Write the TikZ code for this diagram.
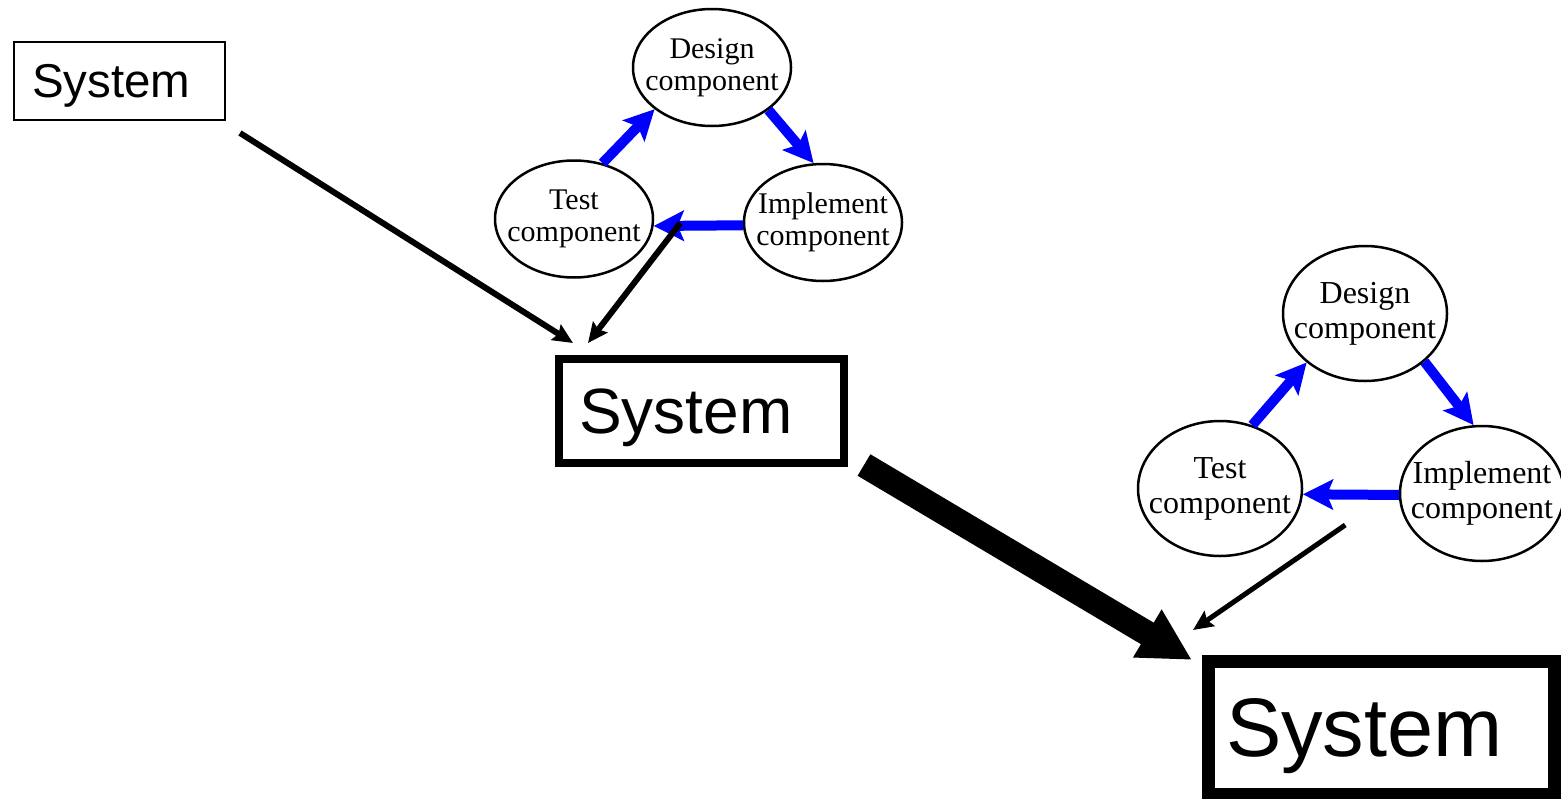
\documentclass[tikz,border=0pt]{standalone}
\usepackage{fontspec}
\setmainfont{Liberation Serif}
\newfontfamily\sysfont{Liberation Sans}
\usetikzlibrary{shapes.geometric,arrows.meta}

\begin{document}
\begin{tikzpicture}[x=1pt,y=-1pt,
            compa/.style={ellipse,draw,line width=2.5pt,inner sep=0pt,minimum width=158pt,minimum height=117pt,
                label={[align=center,font=\fontsize{30}{31.6}\selectfont]center:#1}},
            compb/.style={ellipse,draw,line width=2.5pt,inner sep=0pt,minimum width=164pt,minimum height=135pt,
                label={[align=center,font=\fontsize{32}{35}\selectfont]center:#1}},
            flow/.style={draw=blue,line width=10pt,-{Stealth[length=30pt,width=30pt,inset=6pt]}},
            link/.style={draw,line width=#1,-{Stealth[length=20pt,width=18pt,inset=3pt]}}]
            \useasboundingbox (0,0) rectangle (1561,798);

            \begin{scope}[every node/.style={rectangle,draw,align=left,text depth=0pt}]
                \node[line width=2pt,inner xsep=18pt,text width=175pt,minimum height=78pt,font=\sysfont\fontsize{47.5}{50}\selectfont] (sys1) at (119.5,81) {System};
                \node[line width=8pt,inner xsep=20pt,text width=245pt,minimum height=104pt,font=\sysfont\fontsize{64}{70}\selectfont] (sys2) at (701.5,411) {System};
                \node[line width=13pt,inner xsep=17.5pt,text width=311pt,minimum height=133pt,font=\sysfont\fontsize{83}{90}\selectfont] (sys3) at (1381.5,728) {System};
            \end{scope}

            \begin{scope}
                \node[compa={Design\\component}] (des1) at (712,67.5) {};
                \node[compa={Test\\component}] (tst1) at (574,219) {};
                \node[compa={Implement\\component}] (imp1) at (823,222.5) {};
                \node[compb={Design\\component}] (des2) at (1365,313.5) {};
                \node[compb={Test\\component}] (tst2) at (1220,488.5) {};
                \node[compb={Implement\\component}] (imp2) at (1482,493.5) {};
            \end{scope}

            \begin{scope}
                \path[flow] (tst1.63) -- (des1.216);
                \path[flow] (des1.-37) -- (imp1.99);
                \path[flow] (imp1.182) -- (tst1.-5);
                \path[flow] (tst2.63) -- (des2.220);
                \path[flow] (des2.-39) -- (imp2.97);
                \path[flow] (imp2.181) -- (tst2.-4);
            \end{scope}

            \begin{scope}
                \path[link=6pt] ([shift={(14,12)}]sys1.south east) -- ([shift={(18,-12)}]sys2.north west);
                \path[link=6pt] ([shift={(26,4)}]tst1.east) -- ([shift={(33,-12)}]sys2.north west);
                \path[link=5pt] ([shift={(42,36.5)}]tst2.east) -- ([shift={(-9,-25)}]sys3.north west);
                \path[draw,line width=25pt,-{Triangle[length=52pt,width=52pt]}] ([shift={(16,-2)}]sys2.south east) -- ([shift={(-10,5)}]sys3.north west);
            \end{scope}
\end{tikzpicture}
\end{document}
